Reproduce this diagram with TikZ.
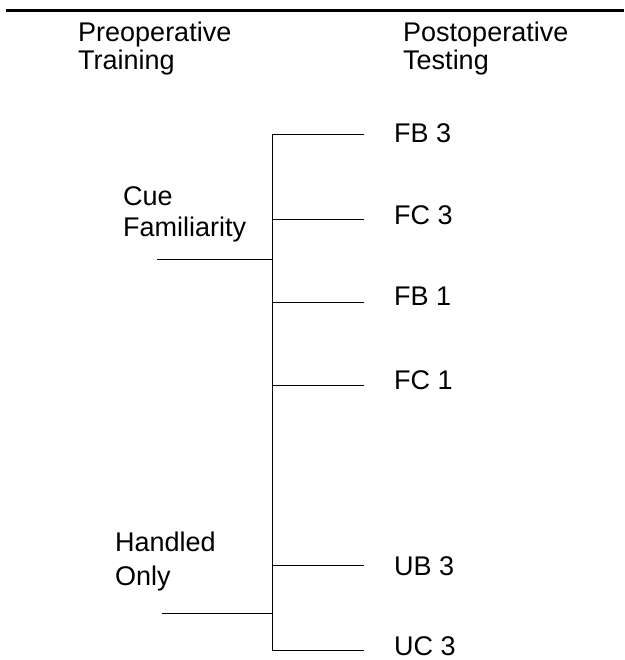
\documentclass[tikz,border=0pt]{standalone}
\usepackage{fontspec}
\setmainfont{Liberation Sans}
\usepackage{tikz}
\def\arm(#1:#2:#3)#4% Syntax: (name:arm y:label y) {label}
{ \coordinate (#1s) at (272,#2); \coordinate (#1e) at (364,#2);
  \draw[thin] (#1s) -- (#1e); \node[lab] (#1) at (394,#3) {#4}; }

\begin{document}
\begin{tikzpicture}[x=1pt,y=-1pt,
	lab/.style={anchor=west,inner sep=0pt,font=\fontsize{27}{30}\selectfont},
	head/.style={anchor=north west,inner sep=0pt,align=left,font=\fontsize{27}{#1}\selectfont}]
	\useasboundingbox (0,0) rectangle (624,660);
	\draw[line width=2.5pt] (6,10.5) -- (624,10.5);
	\node[head=28] (pre) at (78,22) {Preoperative\\Training};
	\node[head=28] (post) at (403,22) {Postoperative\\Testing};
	%
	\node[head=31] (cue) at (123,186) {Cue\\Familiarity};
	\node[head=34] (hand) at (115,532) {Handled\\Only};
	\coordinate (top) at (272,134);	\coordinate (bot) at (272,650);
	\draw[thin] (top) -- (bot);
	\coordinate (c0) at (157,259);	\coordinate (c1) at (272,259);
	\draw[thin] (c0) -- (c1);
	\coordinate (h0) at (162,613);	\coordinate (h1) at (272,613);
	\draw[thin] (h0) -- (h1);
	%
	\arm(fbthree:134:133){FB 3}
	\arm(fcthree:219:215){FC 3}
	\arm(fbone:302:296){FB 1}
	\arm(fcone:385:380){FC 1}
	\arm(ubthree:565:566){UB 3}
	\arm(ucthree:650:646){UC 3}
\end{tikzpicture}
\end{document}
